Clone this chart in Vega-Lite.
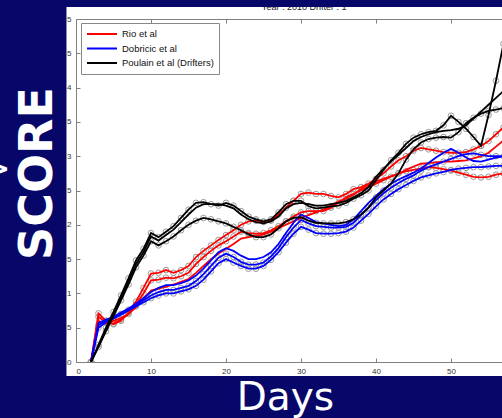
{
  "$schema": "https://vega.github.io/schema/vega-lite/v6.json",
  "autosize": "none",
  "width": 426,
  "height": 343,
  "padding": {"left": 76, "top": 19, "right": 0, "bottom": 56},
  "background": "#07076a",
  "config": {
    "view": {"stroke": null},
    "axis": {"zindex": 1, "grid": false, "domainColor": "#808080", "tickColor": "#808080", "labelFont": "Liberation Sans", "labelFontSize": 8, "labelColor": "#333333"}
  },
  "datasets": {
    "scores": [
      {"m":"Rio et al","d":2,"a":0,"b":0,"c":0},
      {"m":"Rio et al","d":3,"a":0.71,"b":0.66,"c":0.6},
      {"m":"Rio et al","d":4,"a":0.6,"b":0.58,"c":0.56},
      {"m":"Rio et al","d":5,"a":0.55,"b":0.56,"c":0.6},
      {"m":"Rio et al","d":6,"a":0.6,"b":0.62,"c":0.64},
      {"m":"Rio et al","d":7,"a":0.72,"b":0.7,"c":0.7},
      {"m":"Rio et al","d":8,"a":0.88,"b":0.84,"c":0.8},
      {"m":"Rio et al","d":9,"a":1.08,"b":1.0,"c":0.92},
      {"m":"Rio et al","d":10,"a":1.29,"b":1.19,"c":1.04},
      {"m":"Rio et al","d":11,"a":1.3,"b":1.2,"c":1.07},
      {"m":"Rio et al","d":12,"a":1.34,"b":1.23,"c":1.1},
      {"m":"Rio et al","d":13,"a":1.3,"b":1.22,"c":1.13},
      {"m":"Rio et al","d":14,"a":1.34,"b":1.25,"c":1.17},
      {"m":"Rio et al","d":15,"a":1.4,"b":1.3,"c":1.21},
      {"m":"Rio et al","d":16,"a":1.53,"b":1.43,"c":1.3},
      {"m":"Rio et al","d":17,"a":1.62,"b":1.53,"c":1.4},
      {"m":"Rio et al","d":18,"a":1.7,"b":1.62,"c":1.5},
      {"m":"Rio et al","d":19,"a":1.78,"b":1.7,"c":1.58},
      {"m":"Rio et al","d":20,"a":1.85,"b":1.76,"c":1.65},
      {"m":"Rio et al","d":21,"a":1.92,"b":1.83,"c":1.72},
      {"m":"Rio et al","d":22,"a":2.0,"b":1.9,"c":1.8},
      {"m":"Rio et al","d":23,"a":2.05,"b":1.88,"c":1.82},
      {"m":"Rio et al","d":24,"a":2.06,"b":1.87,"c":1.84},
      {"m":"Rio et al","d":25,"a":2.04,"b":1.88,"c":1.86},
      {"m":"Rio et al","d":26,"a":2.06,"b":1.92,"c":1.9},
      {"m":"Rio et al","d":27,"a":2.15,"b":1.98,"c":1.95},
      {"m":"Rio et al","d":28,"a":2.25,"b":2.05,"c":2.0},
      {"m":"Rio et al","d":29,"a":2.35,"b":2.12,"c":2.05},
      {"m":"Rio et al","d":30,"a":2.45,"b":2.18,"c":2.1},
      {"m":"Rio et al","d":31,"a":2.47,"b":2.2,"c":2.14},
      {"m":"Rio et al","d":32,"a":2.45,"b":2.2,"c":2.18},
      {"m":"Rio et al","d":33,"a":2.45,"b":2.2,"c":2.22},
      {"m":"Rio et al","d":34,"a":2.42,"b":2.25,"c":2.28},
      {"m":"Rio et al","d":35,"a":2.4,"b":2.32,"c":2.34},
      {"m":"Rio et al","d":36,"a":2.45,"b":2.4,"c":2.38},
      {"m":"Rio et al","d":37,"a":2.52,"b":2.45,"c":2.44},
      {"m":"Rio et al","d":38,"a":2.55,"b":2.5,"c":2.52},
      {"m":"Rio et al","d":39,"a":2.6,"b":2.55,"c":2.58},
      {"m":"Rio et al","d":40,"a":2.67,"b":2.6,"c":2.63},
      {"m":"Rio et al","d":41,"a":2.75,"b":2.65,"c":2.67},
      {"m":"Rio et al","d":42,"a":2.85,"b":2.7,"c":2.71},
      {"m":"Rio et al","d":43,"a":2.94,"b":2.75,"c":2.74},
      {"m":"Rio et al","d":44,"a":3.0,"b":2.78,"c":2.8},
      {"m":"Rio et al","d":45,"a":3.08,"b":2.8,"c":2.85},
      {"m":"Rio et al","d":46,"a":3.12,"b":2.82,"c":2.89},
      {"m":"Rio et al","d":47,"a":3.1,"b":2.84,"c":2.9},
      {"m":"Rio et al","d":48,"a":3.08,"b":2.83,"c":2.91},
      {"m":"Rio et al","d":49,"a":3.06,"b":2.81,"c":2.92},
      {"m":"Rio et al","d":50,"a":3.05,"b":2.79,"c":2.92},
      {"m":"Rio et al","d":51,"a":3.05,"b":2.76,"c":2.93},
      {"m":"Rio et al","d":52,"a":3.06,"b":2.73,"c":2.94},
      {"m":"Rio et al","d":53,"a":3.1,"b":2.7,"c":2.97},
      {"m":"Rio et al","d":54,"a":3.15,"b":2.69,"c":3.0},
      {"m":"Rio et al","d":55,"a":3.22,"b":2.7,"c":3.05},
      {"m":"Rio et al","d":56,"a":3.32,"b":2.73,"c":3.14},
      {"m":"Rio et al","d":57,"a":3.42,"b":2.75,"c":3.23},
      {"m":"Dobricic et al","d":2,"a":0,"b":0,"c":0},
      {"m":"Dobricic et al","d":3,"a":0.54,"b":0.5,"c":0.57},
      {"m":"Dobricic et al","d":4,"a":0.6,"b":0.58,"c":0.62},
      {"m":"Dobricic et al","d":5,"a":0.64,"b":0.63,"c":0.66},
      {"m":"Dobricic et al","d":6,"a":0.7,"b":0.69,"c":0.72},
      {"m":"Dobricic et al","d":7,"a":0.76,"b":0.75,"c":0.78},
      {"m":"Dobricic et al","d":8,"a":0.83,"b":0.81,"c":0.85},
      {"m":"Dobricic et al","d":9,"a":0.9,"b":0.87,"c":0.93},
      {"m":"Dobricic et al","d":10,"a":0.97,"b":0.93,"c":1.02},
      {"m":"Dobricic et al","d":11,"a":1.02,"b":0.97,"c":1.08},
      {"m":"Dobricic et al","d":12,"a":1.05,"b":1.0,"c":1.12},
      {"m":"Dobricic et al","d":13,"a":1.05,"b":1.0,"c":1.12},
      {"m":"Dobricic et al","d":14,"a":1.08,"b":1.03,"c":1.15},
      {"m":"Dobricic et al","d":15,"a":1.11,"b":1.06,"c":1.19},
      {"m":"Dobricic et al","d":16,"a":1.18,"b":1.11,"c":1.26},
      {"m":"Dobricic et al","d":17,"a":1.28,"b":1.2,"c":1.36},
      {"m":"Dobricic et al","d":18,"a":1.4,"b":1.32,"c":1.48},
      {"m":"Dobricic et al","d":19,"a":1.52,"b":1.44,"c":1.6},
      {"m":"Dobricic et al","d":20,"a":1.58,"b":1.5,"c":1.66},
      {"m":"Dobricic et al","d":21,"a":1.53,"b":1.45,"c":1.62},
      {"m":"Dobricic et al","d":22,"a":1.46,"b":1.4,"c":1.55},
      {"m":"Dobricic et al","d":23,"a":1.42,"b":1.36,"c":1.5},
      {"m":"Dobricic et al","d":24,"a":1.42,"b":1.36,"c":1.5},
      {"m":"Dobricic et al","d":25,"a":1.45,"b":1.4,"c":1.53},
      {"m":"Dobricic et al","d":26,"a":1.54,"b":1.49,"c":1.6},
      {"m":"Dobricic et al","d":27,"a":1.66,"b":1.6,"c":1.72},
      {"m":"Dobricic et al","d":28,"a":1.82,"b":1.74,"c":1.88},
      {"m":"Dobricic et al","d":29,"a":1.96,"b":1.87,"c":2.03},
      {"m":"Dobricic et al","d":30,"a":2.07,"b":1.97,"c":2.15},
      {"m":"Dobricic et al","d":31,"a":2.02,"b":1.93,"c":2.1},
      {"m":"Dobricic et al","d":32,"a":1.98,"b":1.88,"c":2.04},
      {"m":"Dobricic et al","d":33,"a":1.97,"b":1.87,"c":2.02},
      {"m":"Dobricic et al","d":34,"a":1.96,"b":1.87,"c":2.0},
      {"m":"Dobricic et al","d":35,"a":1.96,"b":1.88,"c":1.98},
      {"m":"Dobricic et al","d":36,"a":1.97,"b":1.9,"c":2.0},
      {"m":"Dobricic et al","d":37,"a":2.03,"b":1.96,"c":2.08},
      {"m":"Dobricic et al","d":38,"a":2.14,"b":2.06,"c":2.2},
      {"m":"Dobricic et al","d":39,"a":2.25,"b":2.16,"c":2.32},
      {"m":"Dobricic et al","d":40,"a":2.36,"b":2.27,"c":2.42},
      {"m":"Dobricic et al","d":41,"a":2.46,"b":2.37,"c":2.52},
      {"m":"Dobricic et al","d":42,"a":2.54,"b":2.45,"c":2.6},
      {"m":"Dobricic et al","d":43,"a":2.61,"b":2.52,"c":2.66},
      {"m":"Dobricic et al","d":44,"a":2.67,"b":2.58,"c":2.71},
      {"m":"Dobricic et al","d":45,"a":2.72,"b":2.64,"c":2.76},
      {"m":"Dobricic et al","d":46,"a":2.79,"b":2.69,"c":2.82},
      {"m":"Dobricic et al","d":47,"a":2.84,"b":2.72,"c":2.9},
      {"m":"Dobricic et al","d":48,"a":2.88,"b":2.75,"c":2.98},
      {"m":"Dobricic et al","d":49,"a":2.92,"b":2.77,"c":3.05},
      {"m":"Dobricic et al","d":50,"a":2.96,"b":2.8,"c":3.11},
      {"m":"Dobricic et al","d":51,"a":3.0,"b":2.82,"c":3.05},
      {"m":"Dobricic et al","d":52,"a":3.03,"b":2.83,"c":2.98},
      {"m":"Dobricic et al","d":53,"a":3.04,"b":2.84,"c":2.93},
      {"m":"Dobricic et al","d":54,"a":3.02,"b":2.84,"c":2.92},
      {"m":"Dobricic et al","d":55,"a":3.0,"b":2.85,"c":2.95},
      {"m":"Dobricic et al","d":56,"a":3.0,"b":2.86,"c":2.98},
      {"m":"Dobricic et al","d":57,"a":3.0,"b":2.86,"c":3.0},
      {"m":"Poulain et al (Drifters)","d":2,"a":0,"b":0,"c":0},
      {"m":"Poulain et al (Drifters)","d":3,"a":0.25,"b":0.22,"c":0.23},
      {"m":"Poulain et al (Drifters)","d":4,"a":0.5,"b":0.45,"c":0.47},
      {"m":"Poulain et al (Drifters)","d":5,"a":0.73,"b":0.67,"c":0.7},
      {"m":"Poulain et al (Drifters)","d":6,"a":0.97,"b":0.9,"c":0.94},
      {"m":"Poulain et al (Drifters)","d":7,"a":1.22,"b":1.13,"c":1.18},
      {"m":"Poulain et al (Drifters)","d":8,"a":1.48,"b":1.38,"c":1.43},
      {"m":"Poulain et al (Drifters)","d":9,"a":1.65,"b":1.55,"c":1.6},
      {"m":"Poulain et al (Drifters)","d":10,"a":1.88,"b":1.76,"c":1.83},
      {"m":"Poulain et al (Drifters)","d":11,"a":1.82,"b":1.7,"c":1.77},
      {"m":"Poulain et al (Drifters)","d":12,"a":1.9,"b":1.76,"c":1.85},
      {"m":"Poulain et al (Drifters)","d":13,"a":1.98,"b":1.83,"c":1.93},
      {"m":"Poulain et al (Drifters)","d":14,"a":2.1,"b":1.92,"c":2.04},
      {"m":"Poulain et al (Drifters)","d":15,"a":2.22,"b":2.0,"c":2.15},
      {"m":"Poulain et al (Drifters)","d":16,"a":2.32,"b":2.06,"c":2.25},
      {"m":"Poulain et al (Drifters)","d":17,"a":2.33,"b":2.1,"c":2.3},
      {"m":"Poulain et al (Drifters)","d":18,"a":2.3,"b":2.08,"c":2.3},
      {"m":"Poulain et al (Drifters)","d":19,"a":2.28,"b":2.05,"c":2.3},
      {"m":"Poulain et al (Drifters)","d":20,"a":2.32,"b":2.02,"c":2.28},
      {"m":"Poulain et al (Drifters)","d":21,"a":2.28,"b":1.97,"c":2.24},
      {"m":"Poulain et al (Drifters)","d":22,"a":2.2,"b":1.92,"c":2.15},
      {"m":"Poulain et al (Drifters)","d":23,"a":2.12,"b":1.86,"c":2.08},
      {"m":"Poulain et al (Drifters)","d":24,"a":2.08,"b":1.82,"c":2.04},
      {"m":"Poulain et al (Drifters)","d":25,"a":2.05,"b":1.82,"c":2.02},
      {"m":"Poulain et al (Drifters)","d":26,"a":2.08,"b":1.86,"c":2.05},
      {"m":"Poulain et al (Drifters)","d":27,"a":2.18,"b":1.95,"c":2.12},
      {"m":"Poulain et al (Drifters)","d":28,"a":2.3,"b":2.05,"c":2.24},
      {"m":"Poulain et al (Drifters)","d":29,"a":2.35,"b":2.1,"c":2.3},
      {"m":"Poulain et al (Drifters)","d":30,"a":2.35,"b":2.11,"c":2.32},
      {"m":"Poulain et al (Drifters)","d":31,"a":2.27,"b":2.06,"c":2.3},
      {"m":"Poulain et al (Drifters)","d":32,"a":2.24,"b":2.03,"c":2.28},
      {"m":"Poulain et al (Drifters)","d":33,"a":2.25,"b":2.02,"c":2.28},
      {"m":"Poulain et al (Drifters)","d":34,"a":2.27,"b":2.02,"c":2.3},
      {"m":"Poulain et al (Drifters)","d":35,"a":2.28,"b":2.02,"c":2.32},
      {"m":"Poulain et al (Drifters)","d":36,"a":2.32,"b":2.04,"c":2.35},
      {"m":"Poulain et al (Drifters)","d":37,"a":2.38,"b":2.08,"c":2.4},
      {"m":"Poulain et al (Drifters)","d":38,"a":2.43,"b":2.15,"c":2.46},
      {"m":"Poulain et al (Drifters)","d":39,"a":2.5,"b":2.25,"c":2.55},
      {"m":"Poulain et al (Drifters)","d":40,"a":2.65,"b":2.4,"c":2.7},
      {"m":"Poulain et al (Drifters)","d":41,"a":2.8,"b":2.5,"c":2.82},
      {"m":"Poulain et al (Drifters)","d":42,"a":2.94,"b":2.6,"c":2.92},
      {"m":"Poulain et al (Drifters)","d":43,"a":3.05,"b":2.75,"c":3.02},
      {"m":"Poulain et al (Drifters)","d":44,"a":3.18,"b":2.95,"c":3.12},
      {"m":"Poulain et al (Drifters)","d":45,"a":3.27,"b":3.1,"c":3.22},
      {"m":"Poulain et al (Drifters)","d":46,"a":3.32,"b":3.2,"c":3.28},
      {"m":"Poulain et al (Drifters)","d":47,"a":3.35,"b":3.25,"c":3.32},
      {"m":"Poulain et al (Drifters)","d":48,"a":3.37,"b":3.27,"c":3.35},
      {"m":"Poulain et al (Drifters)","d":49,"a":3.45,"b":3.28,"c":3.37},
      {"m":"Poulain et al (Drifters)","d":50,"a":3.59,"b":3.27,"c":3.38},
      {"m":"Poulain et al (Drifters)","d":51,"a":3.5,"b":3.35,"c":3.4},
      {"m":"Poulain et al (Drifters)","d":52,"a":3.4,"b":3.48,"c":3.45},
      {"m":"Poulain et al (Drifters)","d":53,"a":3.28,"b":3.56,"c":3.55},
      {"m":"Poulain et al (Drifters)","d":54,"a":3.15,"b":3.62,"c":3.65},
      {"m":"Poulain et al (Drifters)","d":55,"a":3.6,"b":3.66,"c":3.75},
      {"m":"Poulain et al (Drifters)","d":56,"a":4.1,"b":3.68,"c":3.85},
      {"m":"Poulain et al (Drifters)","d":57,"a":4.64,"b":3.7,"c":3.95}
    ]
  },
  "resolve": {"axis": {"x": "independent", "y": "independent"}},
  "layer": [
    {
      "data": {"values": [{}]},
      "mark": {"type": "rect", "color": "#ffffff", "clip": false},
      "encoding": {
        "x": {"datum": -1.27, "type": "quantitative", "scale": {"domain": [0, 56.8], "nice": false, "zero": false}, "axis": null},
        "x2": {"datum": 56.8},
        "y": {"datum": -0.204, "type": "quantitative", "scale": {"domain": [0, 5], "nice": false}, "axis": null},
        "y2": {"datum": 5.175}
      }
    },
    {
      "data": {"values": [{}]},
      "mark": {"type": "text", "text": "Year : 2010 Drifter : 1", "font": "Liberation Sans", "fontSize": 9, "color": "#222222", "align": "center", "baseline": "alphabetic", "clip": false},
      "encoding": {
        "x": {"datum": 30.4, "type": "quantitative", "scale": {"domain": [0, 56.8], "nice": false, "zero": false}, "axis": null},
        "y": {"datum": 5.124, "type": "quantitative", "scale": {"domain": [0, 5], "nice": false}, "axis": null}
      }
    },
    {
      "data": {"values": [{}]},
      "mark": {"type": "rect", "color": "#07076a", "clip": false},
      "encoding": {
        "x": {"datum": -1.5, "type": "quantitative", "scale": {"domain": [0, 56.8], "nice": false, "zero": false},
              "axis": {"orient": "top", "zindex": 1, "values": [10, 20, 30, 40, 50], "labels": false, "title": null, "tickSize": -4, "domain": true}},
        "x2": {"datum": 57},
        "y": {"datum": 5.175, "type": "quantitative", "scale": {"domain": [0, 5], "nice": false}, "axis": null},
        "y2": {"datum": 5.4}
      }
    },
    {
      "data": {"values": [{}]},
      "mark": {"type": "text", "text": ">", "font": "DejaVu Sans", "fontWeight": "bold", "fontSize": 28, "color": "#ffffff", "align": "right", "baseline": "alphabetic", "clip": false},
      "encoding": {
        "x": {"datum": -8.8, "type": "quantitative", "scale": {"domain": [0, 56.8], "nice": false, "zero": false}, "axis": null},
        "y": {"datum": 2.68, "type": "quantitative", "scale": {"domain": [0, 5], "nice": false}, "axis": null}
      }
    },
    {
      "data": {"name": "scores"},
      "transform": [
        {"fold": ["a", "b"], "as": ["k", "v"]}
      ],
      "mark": {"type": "point", "shape": "circle", "filled": false, "stroke": "#9a9a9a", "strokeWidth": 1, "size": 32, "opacity": 1, "clip": true},
      "encoding": {
        "x": {"field": "d", "type": "quantitative", "scale": {"domain": [0, 56.8], "nice": false, "zero": false}, "axis": null},
        "y": {"field": "v", "type": "quantitative", "scale": {"domain": [0, 5], "nice": false}, "axis": null},
        "detail": {"field": "m"}
      }
    },
    {
      "data": {"name": "scores"},
      "transform": [
        {"fold": ["a", "b", "c"], "as": ["k", "v"]}
      ],
      "mark": {"type": "line", "strokeWidth": 1.8, "clip": true},
      "encoding": {
        "x": {"field": "d", "type": "quantitative", "scale": {"domain": [0, 56.8], "nice": false, "zero": false},
              "axis": {"orient": "bottom", "zindex": 1, "values": [0, 10, 20, 30, 40, 50], "tickSize": -4, "labelPadding": 9,
                       "title": "Days", "titleFont": "DejaVu Sans", "titleFontSize": 39, "titleFontWeight": "normal", "titleColor": "#ffffff",
                       "titleX": 209, "titleY": 47, "titleAlign": "center", "titleBaseline": "alphabetic"}},
        "y": {"field": "v", "type": "quantitative", "scale": {"domain": [0, 5], "nice": false},
              "axis": {"orient": "left", "zindex": 1, "values": [0, 0.5, 1, 1.5, 2, 2.5, 3, 3.5, 4, 4.5, 5], "tickSize": -4, "labelPadding": 9,
                       "labelExpr": "datum.value % 1 === 0 ? format(datum.value, 'd') : '5'",
                       "title": "SCORE", "titleFont": "DejaVu Sans", "titleFontSize": 46, "titleFontWeight": "bold", "titleColor": "#ffffff",
                       "titleAngle": 270, "titleX": -25, "titleY": 154, "titleAlign": "center", "titleBaseline": "alphabetic"}},
        "color": {"field": "m", "type": "nominal",
                  "scale": {"domain": ["Rio et al", "Dobricic et al", "Poulain et al (Drifters)"], "range": ["#ff0000", "#0000ff", "#000000"]},
                  "legend": {"title": null, "orient": "none", "legendX": 5, "legendY": 4, "fillColor": "#ffffff", "strokeColor": "#888888",
                             "padding": 5, "symbolType": "stroke", "symbolStrokeWidth": 2, "symbolSize": 900, "clipHeight": 12, "labelFont": "Liberation Sans",
                             "labelFontSize": 9.5, "labelColor": "#111111", "labelOffset": 4, "rowPadding": 2.5}},
        "detail": {"field": "k"}
      }
    }
  ]
}
